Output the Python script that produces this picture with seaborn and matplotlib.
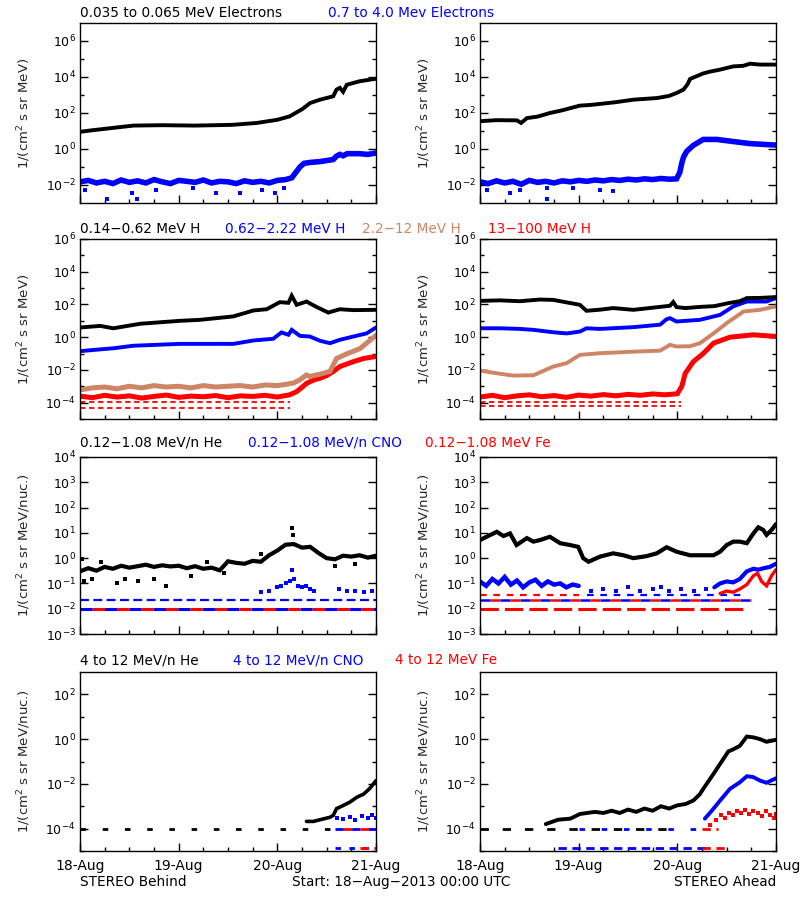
import matplotlib
matplotlib.use("Agg")
import matplotlib.pyplot as plt
import seaborn as sns
from matplotlib.ticker import FixedLocator, LogFormatterSciNotation, NullFormatter, MultipleLocator

# ---------------- DATA (time in hours since 18-Aug-2013 00:00 UTC) ----------------
# Row 1 : electrons
BEH_E_LO_T = [0, 3, 7, 13, 20, 28, 37, 43, 48, 51, 53, 54, 56, 58.4, 61.6, 62.4, 63.2, 64.0, 64.9, 68, 72]
BEH_E_LO = [9, 11, 14, 20, 21, 20, 22, 28, 42, 65, 120, 160, 360, 550, 850, 2000, 2500, 1500, 3700, 5800, 8000]
BEH_E_HI_T = [0, 2, 4, 6, 8, 10, 12, 14, 16, 18, 20, 22, 24, 26, 28, 30, 32, 34, 36, 38, 40, 42, 44, 46, 48, 50,
              51.5, 52.5, 53.5, 54.5, 56, 58.4, 61.6, 62.4, 63.2, 64.0, 65, 68, 70, 72]
BEH_E_HI = [0.015, 0.018, 0.013, 0.016, 0.012, 0.019, 0.014, 0.017, 0.013, 0.02, 0.015, 0.012, 0.018, 0.016, 0.014,
            0.019, 0.013, 0.016, 0.015, 0.012, 0.017, 0.014, 0.016, 0.013, 0.018, 0.02,
            0.025, 0.05, 0.1, 0.16, 0.18, 0.2, 0.26, 0.4, 0.5, 0.42, 0.55, 0.55, 0.5, 0.6]
BEH_E_HI_OUT_T = [1.2, 6.5, 12.6, 13.8, 18.6, 27.6, 33.2, 38.9, 44.2, 47.4, 49.5]
BEH_E_HI_OUT = [0.0055, 0.0017, 0.0036, 0.0017, 0.0055, 0.0068, 0.0036, 0.0036, 0.0055, 0.0036, 0.0068]

AHE_E_LO_T = [0, 4, 9, 10, 11.4, 14, 17, 20, 24.3, 27, 29, 33, 37.3, 43, 46, 47.8, 49.5, 50.5, 51.1, 52, 54.3, 56,
              58.4, 61.6, 64, 65.7, 68, 72]
AHE_E_LO = [35, 40, 39, 28, 52, 63, 100, 141, 257, 282, 316, 398, 550, 676, 891, 1290, 2000, 3980, 7760, 9550,
            15800, 20000, 25700, 38900, 41700, 55000, 49000, 49000]
AHE_E_HI_T = [0, 2, 4, 6, 8, 10, 12, 14, 16, 18, 20, 22, 24, 26, 28, 30, 32, 34, 36, 38, 40, 42, 44, 46,
              47.8, 48.6, 49.1, 49.5, 50.3, 51.9, 54.3, 57.6, 61.6, 65.7, 69, 72]
AHE_E_HI = [0.015, 0.012, 0.017, 0.013, 0.016, 0.011, 0.018, 0.014, 0.016, 0.013, 0.017, 0.015, 0.018, 0.016,
            0.019, 0.017, 0.02, 0.018, 0.021, 0.019, 0.022, 0.02, 0.023, 0.021,
            0.022, 0.05, 0.17, 0.35, 0.75, 1.6, 3.4, 3.4, 2.6, 2.0, 1.8, 1.65]
AHE_E_HI_OUT_T = [1.6, 7.3, 9.7, 16.2, 16.2, 22.7, 29.2, 32.4]
AHE_E_HI_OUT = [0.0055, 0.0036, 0.0055, 0.0065, 0.0017, 0.0065, 0.0055, 0.0045]

# Row 2 : protons
BEH_H1_T = [0, 4.9, 8.1, 14.6, 24.3, 29.2, 37.3, 42.2, 45.4, 48.6, 50.7, 51.5, 52.7, 55.1, 57.6, 60.4, 63.2, 66.5, 72]
BEH_H1 = [3.9, 4.9, 3.5, 6.6, 10, 11.5, 18.6, 43, 51, 138, 126, 340, 95, 150, 69, 32, 51, 45, 47]
BEH_H2_T = [0, 4.9, 8.1, 13, 24.3, 37.3, 42.2, 47, 49, 50.7, 51.5, 53.5, 55.9, 58.4, 60.8, 63.2, 66.5, 69.7, 72]
BEH_H2 = [0.14, 0.18, 0.21, 0.3, 0.39, 0.39, 0.63, 0.8, 1.95, 1.4, 2.8, 1.2, 1.1, 0.6, 0.43, 0.69, 1.1, 1.7, 3.9]
BEH_H3_T = [0, 3, 6, 9, 12, 15, 18, 21, 24, 27, 30, 33, 36, 39, 42, 45, 48,
            50, 52, 53.5, 55.1, 55.9, 58.4, 60.8, 62.4, 64.9, 68.1, 69.7, 72]
BEH_H3 = [6e-4, 8e-4, 9e-4, 7e-4, 1.0e-3, 8e-4, 1.1e-3, 9e-4, 1.0e-3, 8e-4, 1.1e-3, 9e-4, 1.0e-3, 1.1e-3, 9e-4,
          1.2e-3, 1.1e-3, 1.3e-3, 1.6e-3, 2.5e-3, 4.9e-3, 4.0e-3, 5.5e-3, 8e-3, 0.05, 0.095, 0.2, 0.43, 1.3]
BEH_H4_T = [0, 3, 6, 9, 12, 15, 18, 21, 24, 27, 30, 33, 36, 39, 42, 45, 48, 51,
            52.7, 54.3, 55.1, 57, 58.4, 60, 61.6, 63.2, 66.5, 69, 72]
BEH_H4 = [2.5e-4, 2.0e-4, 2.8e-4, 2.2e-4, 2.6e-4, 1.9e-4, 2.4e-4, 2.9e-4, 2.1e-4, 2.5e-4, 2.3e-4, 2.7e-4, 2.0e-4,
          2.6e-4, 2.4e-4, 2.8e-4, 2.2e-4, 3.0e-4,
          4.7e-4, 1e-3, 1.5e-3, 2.5e-3, 3.1e-3, 4.5e-3, 8e-3, 0.016, 0.032, 0.05, 0.066]
BEH_H4_FLOORS = [1.15e-4, 4.5e-5]

AHE_H1_T = [0, 4.9, 9.7, 14.6, 17.8, 24.3, 25.9, 29.2, 32.4, 37.3, 43.8, 46.2, 47, 47.8, 50, 53.5, 57, 60.4,
            63.2, 64.9, 68, 72]
AHE_H1 = [166, 178, 158, 200, 190, 95, 41, 48, 60, 47, 71, 83, 141, 69, 60, 71, 79, 120, 158, 245, 251, 282]
AHE_H2_T = [0, 4.9, 9.7, 13, 17.8, 21.1, 24.3, 25.9, 29.2, 37.3, 43.8, 45.4, 46.2, 47.8, 53.5, 58.4, 61.6, 64.9,
            69.7, 72]
AHE_H2 = [3.5, 3.5, 3.2, 2.8, 2.0, 1.7, 2.2, 3.5, 3.2, 4.1, 5.8, 12.6, 14.5, 9.1, 11.5, 23, 76, 151, 151, 245]
AHE_H3_T = [0, 4.9, 8.1, 13, 17.8, 21.1, 24.3, 29.2, 37.3, 43.8, 46.2, 47.8, 51.1, 53.5, 56.8, 60, 64.1, 68.1, 72]
AHE_H3 = [0.0091, 0.0058, 0.0045, 0.0047, 0.016, 0.026, 0.083, 0.105, 0.13, 0.15, 0.34, 0.27, 0.28, 0.43, 1.7,
          7.2, 37, 47, 76]
AHE_H4_T = [0, 3, 6, 9, 12, 15, 18, 21, 24, 27, 30, 33, 36, 39, 42, 45, 48,
            49.1, 49.9, 51.9, 54.3, 56.8, 60.8, 66.5, 72]
AHE_H4 = [2.2e-4, 2.8e-4, 2.0e-4, 2.6e-4, 3.0e-4, 2.3e-4, 2.7e-4, 2.1e-4, 2.9e-4, 2.5e-4, 3.1e-4, 2.6e-4, 3.2e-4,
          2.8e-4, 3.4e-4, 3.0e-4, 3.5e-4, 1e-3, 6e-3, 0.032, 0.1, 0.43, 1.0, 1.4, 1.1]
AHE_H4_FLOORS = [1.15e-4, 6.5e-5]

# Row 3 : 0.12-1.08 MeV/n heavy ions
BEH_HE_T = [0, 2, 4, 6, 8, 10, 12, 14, 16, 18, 20, 22, 24, 26, 28, 30, 32, 34, 36, 38, 40, 42, 44, 46, 48, 50,
            52, 54, 56, 58, 60, 62, 64, 66, 68, 70, 72]
BEH_HE = [0.30, 0.40, 0.32, 0.45, 0.38, 0.50, 0.42, 0.48, 0.55, 0.45, 0.52, 0.47, 0.50, 0.40, 0.48, 0.38, 0.42,
          0.33, 0.75, 0.65, 0.60, 0.78, 0.72, 1.30, 2.00, 3.40, 3.60, 2.60, 2.80, 1.60, 1.00, 0.90, 1.25, 1.15,
          1.30, 1.05, 1.25]
BEH_HE_OUT_T = [0.5, 1, 3, 5, 9, 11, 14, 18, 21, 27, 31, 35, 44, 51.5, 51.7, 62, 67]
BEH_HE_OUT = [0.9, 0.12, 0.15, 0.7, 0.1, 0.15, 0.12, 0.15, 0.08, 0.2, 0.7, 0.25, 1.4, 15, 8, 0.5, 0.6]
BEH_CNO_T = [44, 46, 48, 49, 50, 51, 51.5, 52, 53, 54, 55, 56, 57, 63, 65, 67, 69, 71]
BEH_CNO = [0.045, 0.05, 0.07, 0.08, 0.1, 0.12, 0.35, 0.15, 0.08, 0.07, 0.08, 0.06, 0.05, 0.06, 0.05, 0.05, 0.045, 0.05]
BEH_CNO_FLOORS = [0.022, 0.01]
BEH_FE_FLOORS = [0.01]

AHE_HE_T = [0, 1.6, 4.1, 5.7, 7.3, 8.9, 11.4, 13, 14.6, 17, 19.5, 21.9, 23.9, 25.1, 26.4, 29.2, 32.4, 34.9, 37.3,
            40.5, 43, 45.4, 47.8, 51.1, 53.5, 56.8, 58.4, 60, 61.6, 63.2, 64.9, 66.5, 67.7, 68.9, 69.7, 70.9, 72]
AHE_HE = [5.2, 7.0, 11, 7.5, 9.5, 3.3, 6.2, 4.5, 5.2, 7.0, 3.9, 3.3, 2.8, 1.0, 0.72, 1.15, 1.55, 1.3, 1.0, 1.2,
          1.55, 2.7, 1.8, 1.3, 1.3, 1.3, 1.8, 3.3, 4.5, 4.5, 3.9, 9.5, 16.6, 13, 8.3, 13, 22]
AHE_CNO_A_T = [0, 1.5, 3, 4.5, 6, 7.5, 9, 10.5, 12, 13.5, 15, 16.5, 18, 19.5, 21, 22.5, 24]
AHE_CNO_A = [0.12, 0.08, 0.15, 0.10, 0.18, 0.09, 0.13, 0.07, 0.11, 0.14, 0.08, 0.12, 0.09, 0.10, 0.07, 0.09, 0.08]
AHE_CNO_B_T = [27, 30, 33, 36, 39, 42, 44, 46, 49, 52, 55]
AHE_CNO_B = [0.05, 0.06, 0.05, 0.07, 0.05, 0.06, 0.07, 0.05, 0.06, 0.05, 0.06]
AHE_CNO_C_T = [57, 58.4, 60, 61.6, 63.2, 64.9, 66.5, 67.7, 69, 70.5, 72]
AHE_CNO_C = [0.07, 0.1, 0.12, 0.11, 0.15, 0.3, 0.38, 0.35, 0.4, 0.45, 0.6]
AHE_FE_T = [58.4, 60, 61.6, 63.2, 64.9, 66.5, 67.5, 68.5, 69.7, 70.9, 72]
AHE_FE = [0.04, 0.05, 0.045, 0.06, 0.09, 0.2, 0.25, 0.12, 0.08, 0.2, 0.35]

# Row 4 : 4-12 MeV/n heavy ions
BEH_HE4_T = [55.1, 56.8, 58.4, 60.8, 61.6, 62.4, 64.1, 65.7, 67.3, 69, 70.5, 72]
BEH_HE4 = [2.1e-4, 2.1e-4, 2.5e-4, 3.2e-4, 3.9e-4, 7.8e-4, 1.1e-3, 1.55e-3, 2.5e-3, 3.5e-3, 6.3e-3, 0.014]
BEH_CNO4_T = [62.4, 64, 65.7, 67, 68.5, 70, 71, 72]
BEH_CNO4 = [3e-4, 2.8e-4, 3.4e-4, 2.5e-4, 3.5e-4, 3e-4, 4e-4, 3e-4]

AHE_HE4_T = [16, 19, 22, 24.3, 26, 28, 30, 32, 34, 36, 38, 40, 42, 44, 46, 48, 50, 51.9, 53.5, 54.3, 55.9, 56.8,
             58.4, 60.4, 61.6, 63.2, 64.9, 66.5, 68.1, 69.7, 72]
AHE_HE4 = [1.6e-4, 2.5e-4, 2.8e-4, 4.5e-4, 5e-4, 5.6e-4, 5e-4, 6.3e-4, 5e-4, 7.1e-4, 5.6e-4, 7.9e-4, 6.3e-4, 1.0e-3,
           7.9e-4, 1.1e-3, 1.26e-3, 1.8e-3, 3.5e-3, 6e-3, 0.016, 0.028, 0.078, 0.28, 0.35, 0.5, 1.3, 1.2, 1.0,
           0.76, 0.93]
AHE_CNO4_T = [54.7, 55.9, 56.8, 58.4, 60.8, 63.2, 64.9, 66.5, 68.1, 69.7, 72]
AHE_CNO4 = [2.8e-4, 5e-4, 7.8e-4, 1.8e-3, 6e-3, 0.0117, 0.022, 0.02, 0.014, 0.0112, 0.0178]
AHE_FE4_T = [56, 57.5, 58.5, 59.5, 60.5, 61.5, 62.5, 63.5, 64.5, 65.5, 66.5, 67.5, 68.5, 69.5, 70.5, 71.5, 72]
AHE_FE4 = [1.5e-4, 2.5e-4, 4e-4, 3e-4, 5e-4, 4e-4, 6e-4, 5e-4, 7e-4, 4.5e-4, 6e-4, 5e-4, 3.5e-4, 6e-4, 4e-4,
           3e-4, 4.5e-4]
ION4_FLOORS = [1e-4, 1.3e-5]

DAY_LABELS = ["18-Aug", "19-Aug", "20-Aug", "21-Aug"]

# ---------------- STYLE ----------------
sns.set_style("ticks")
plt.rcParams['font.family'] = ['DejaVu Sans']
plt.rcParams['mathtext.fontset'] = 'dejavusans'

BLACK, BLUE, RED, SIENNA = "#000000", "#0000FF", "#FF0000", "#CD8565"

fig = plt.figure(figsize=(8, 9), dpi=100)
fig.patch.set_facecolor("white")

W, H = 800.0, 900.0
ROWS = [(23, 203), (239, 419), (457, 634), (672, 851)]
COLS = [80, 480]
AXW = 296


def make_ax(r, c):
    top, bot = ROWS[r]
    return fig.add_axes([COLS[c] / W, 1 - bot / H, AXW / W, (bot - top) / H])


def trace(ax, t, v, color, lw=2.2):
    sns.lineplot(x=t, y=v, ax=ax, color=color, lw=lw, estimator=None, sort=False, legend=False)
    ax.lines[-1].set_solid_joinstyle("miter")


def dots(ax, t, v, color, s=7):
    sns.scatterplot(x=t, y=v, ax=ax, color=color, marker="s", s=s, linewidth=0, legend=False)


def floor(ax, level, t0, t1, color, dashes=(3, 2), offset=0, lw=2.0):
    sns.lineplot(x=[t0, t1], y=[level, level], ax=ax, color=color, lw=lw, estimator=None, legend=False)
    ln = ax.lines[-1]
    ln.set_linestyle((offset, dashes))
    ln.set_dash_capstyle("butt")


def style_ax(ax, ylo, yhi, majors, minors, ylabel, bottom_labels):
    ax.set_yscale("log")
    ax.set_xlim(0, 72)
    ax.set_ylim(ylo, yhi)
    ax.yaxis.set_major_locator(FixedLocator(majors))
    ax.yaxis.set_minor_locator(FixedLocator(minors))
    ax.yaxis.set_major_formatter(LogFormatterSciNotation())
    ax.yaxis.set_minor_formatter(NullFormatter())
    ax.xaxis.set_major_locator(FixedLocator([0, 24, 48, 72]))
    ax.xaxis.set_minor_locator(MultipleLocator(6))
    ax.tick_params(which="both", direction="in", left=True, right=True, top=False, bottom=True,
                   width=1, colors="black")
    ax.tick_params(which="major", length=6)
    ax.tick_params(which="minor", length=3)
    ax.tick_params(axis="y", labelsize=9, pad=3)
    ax.tick_params(axis="x", labelsize=10, pad=6)
    if bottom_labels:
        ax.set_xticklabels(DAY_LABELS)
    else:
        ax.set_xticklabels([])
    ax.set_xlabel("")
    ax.set_ylabel(ylabel, fontsize=9.5)
    ax.yaxis.set_label_coords(-0.158, 0.5)
    for sp in ax.spines.values():
        sp.set_linewidth(1)
        sp.set_color("black")
    ax.set_facecolor("white")


YL1 = "1/(cm$^2$ s sr MeV)"
YL2 = "1/(cm$^2$ s sr MeV/nuc.)"

# Row 1
ax = make_ax(0, 0)
trace(ax, BEH_E_LO_T, BEH_E_LO, BLACK, 2.8)
trace(ax, BEH_E_HI_T, BEH_E_HI, BLUE, 4.0)
dots(ax, BEH_E_HI_OUT_T, BEH_E_HI_OUT, BLUE)
style_ax(ax, 1e-3, 1e7, [1e-2, 1, 1e2, 1e4, 1e6], [1e-1, 1e1, 1e3, 1e5], YL1, False)

ax = make_ax(0, 1)
trace(ax, AHE_E_LO_T, AHE_E_LO, BLACK, 2.8)
trace(ax, AHE_E_HI_T, AHE_E_HI, BLUE, 4.0)
dots(ax, AHE_E_HI_OUT_T, AHE_E_HI_OUT, BLUE)
style_ax(ax, 1e-3, 1e7, [1e-2, 1, 1e2, 1e4, 1e6], [1e-1, 1e1, 1e3, 1e5], YL1, False)

# Row 2
ax = make_ax(1, 0)
for lvl in BEH_H4_FLOORS:
    floor(ax, lvl, 0, 51, RED, (3, 2), lw=1.3)
trace(ax, BEH_H4_T, BEH_H4, RED, 3.6)
trace(ax, BEH_H3_T, BEH_H3, SIENNA, 3.6)
trace(ax, BEH_H2_T, BEH_H2, BLUE, 2.8)
trace(ax, BEH_H1_T, BEH_H1, BLACK, 2.8)
style_ax(ax, 1e-5, 1e6, [1e-4, 1e-2, 1, 1e2, 1e4, 1e6], [1e-5, 1e-3, 1e-1, 1e1, 1e3, 1e5], YL1, False)

ax = make_ax(1, 1)
for lvl in AHE_H4_FLOORS:
    floor(ax, lvl, 0, 49, RED, (3, 2), lw=1.3)
trace(ax, AHE_H4_T, AHE_H4, RED, 3.6)
trace(ax, AHE_H3_T, AHE_H3, SIENNA, 2.8)
trace(ax, AHE_H2_T, AHE_H2, BLUE, 2.8)
trace(ax, AHE_H1_T, AHE_H1, BLACK, 2.8)
style_ax(ax, 1e-5, 1e6, [1e-4, 1e-2, 1, 1e2, 1e4, 1e6], [1e-5, 1e-3, 1e-1, 1e1, 1e3, 1e5], YL1, False)

# Row 3
dec3 = [1e-3, 1e-2, 1e-1, 1, 1e1, 1e2, 1e3, 1e4]
ax = make_ax(2, 0)
floor(ax, BEH_CNO_FLOORS[0], 0, 72, BLUE, (4, 2), lw=1.6)
floor(ax, BEH_CNO_FLOORS[1], 0, 72, BLUE, (4, 4), lw=2.2)
floor(ax, BEH_FE_FLOORS[0], 0, 72, RED, (4, 4), offset=4, lw=2.2)
dots(ax, BEH_CNO_T, BEH_CNO, BLUE)
trace(ax, BEH_HE_T, BEH_HE, BLACK, 3.0)
dots(ax, BEH_HE_OUT_T, BEH_HE_OUT, BLACK)
style_ax(ax, 1e-3, 1e4, dec3, [], YL2, False)

ax = make_ax(2, 1)
floor(ax, 0.035, 0, 24, RED, (3, 3), lw=1.6)
floor(ax, 0.035, 26, 65, BLUE, (3, 3), lw=1.6)
floor(ax, 0.022, 0, 66, BLUE, (4, 4), lw=1.8)
floor(ax, 0.022, 0, 66, RED, (4, 4), offset=4, lw=1.8)
floor(ax, 0.01, 0, 65, RED, (6, 2), lw=2.2)
trace(ax, AHE_CNO_A_T, AHE_CNO_A, BLUE, 3.2)
dots(ax, AHE_CNO_B_T, AHE_CNO_B, BLUE)
trace(ax, AHE_CNO_C_T, AHE_CNO_C, BLUE, 3.0)
trace(ax, AHE_FE_T, AHE_FE, RED, 2.4)
trace(ax, AHE_HE_T, AHE_HE, BLACK, 3.0)
style_ax(ax, 1e-3, 1e4, dec3, [], YL2, False)

# Row 4
maj4 = [1e-4, 1e-2, 1, 1e2]
min4 = [1e-5, 1e-3, 1e-1, 1e1]
ax = make_ax(3, 0)
floor(ax, ION4_FLOORS[0], 0, 62, BLACK, (2, 6))
floor(ax, ION4_FLOORS[0], 62, 72, BLUE, (3, 3))
floor(ax, ION4_FLOORS[0], 62, 72, RED, (3, 3), offset=3)
floor(ax, ION4_FLOORS[1], 62, 72, BLUE, (2, 3))
floor(ax, ION4_FLOORS[1], 68, 72, RED, (3, 2))
trace(ax, BEH_HE4_T, BEH_HE4, BLACK, 2.6)
dots(ax, BEH_CNO4_T, BEH_CNO4, BLUE, 9)
style_ax(ax, 1e-5, 1e3, maj4, min4, YL2, True)

ax = make_ax(3, 1)
floor(ax, ION4_FLOORS[0], 0, 48, BLACK, (3, 5))
floor(ax, ION4_FLOORS[0], 24, 55, BLUE, (2, 6))
floor(ax, ION4_FLOORS[1], 19, 55, BLUE, (3, 2))
floor(ax, ION4_FLOORS[0], 54, 58, RED, (3, 2))
floor(ax, ION4_FLOORS[1], 54, 60, RED, (3, 2))
trace(ax, AHE_HE4_T, AHE_HE4, BLACK, 2.8)
trace(ax, AHE_CNO4_T, AHE_CNO4, BLUE, 2.8)
dots(ax, AHE_FE4_T, AHE_FE4, RED, 9)
style_ax(ax, 1e-5, 1e3, maj4, min4, YL2, True)

# ---------------- TITLES ----------------
FS = 9.8


def ftext(x, y, s, color, ha="left"):
    fig.text(x / W, 1 - y / H, s, color=color, fontsize=FS, ha=ha, va="center")


ftext(80, 13, "0.035 to 0.065 MeV Electrons", BLACK)
ftext(328, 13, "0.7 to 4.0 Mev Electrons", BLUE)
ftext(80, 229, "0.14\u22120.62 MeV H", BLACK)
ftext(225, 229, "0.62\u22122.22 MeV H", BLUE)
ftext(362, 229, "2.2\u221212 MeV H", SIENNA)
ftext(488, 229, "13\u2212100 MeV H", RED)
ftext(80, 443, "0.12\u22121.08 MeV/n He", BLACK)
ftext(248, 443, "0.12\u22121.08 MeV/n CNO", BLUE)
ftext(425, 443, "0.12\u22121.08 MeV Fe", RED)
ftext(80, 660, "4 to 12 MeV/n He", BLACK)
ftext(233, 660, "4 to 12 MeV/n CNO", BLUE)
ftext(395, 660, "4 to 12 MeV Fe", RED)
ftext(80, 882, "STEREO Behind", BLACK)
ftext(292, 882, "Start: 18\u2212Aug\u22122013 00:00 UTC", BLACK)
ftext(776, 882, "STEREO Ahead", BLACK, ha="right")

fig.savefig("out.png", dpi=100, facecolor="white")
